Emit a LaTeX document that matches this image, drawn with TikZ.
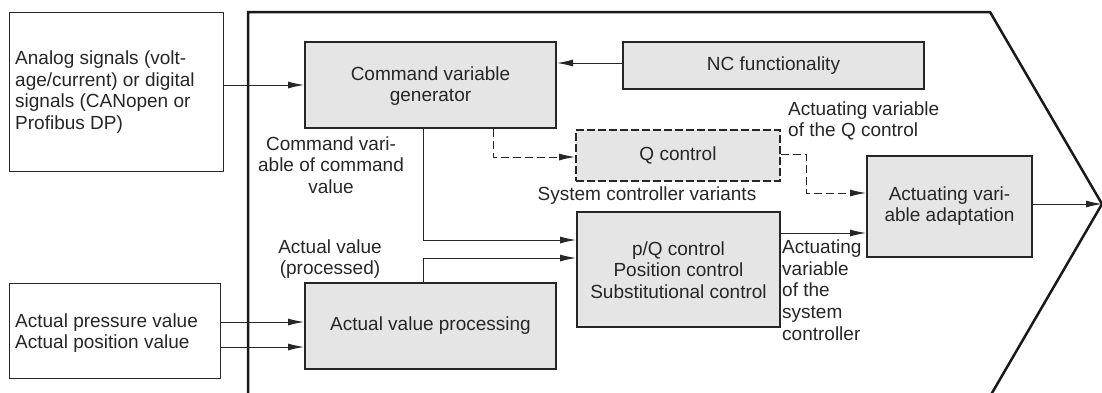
\documentclass[tikz,border=0pt]{standalone}
\usepackage{fontspec}
\setmainfont{Liberation Sans}
\usetikzlibrary{arrows.meta}
\begin{document}
\begin{tikzpicture}[x=1pt,y=-1pt,
  txt/.style={font=\fontsize{19}{21.7}\selectfont, inner sep=0pt, text=black!85},
  inbox/.style={draw=black!85, line width=1pt, fill=white, inner sep=0pt},
  gbox/.style={draw=black!85, line width=2pt, fill=black!10, inner sep=0pt},
  conn/.style={draw=black!85, line width=1pt, -{Latex[length=16pt,width=7pt]}},
  dconn/.style={conn, dash pattern=on 8pt off 4pt},
]
\useasboundingbox (0,0) rectangle (1102,392);
\begin{scope}
\clip (0,0) rectangle (1102,392);
\draw[line width=2.5pt, black!90] (248,420) -- (248,12) -- (990,12) -- (1102,204) -- (985,405);
\end{scope}

% boxes
\node[inbox, minimum width=214pt, minimum height=159pt] (in1) at (116,91.5) {};
\node[txt, align=left, anchor=west] (in1t) at (15,92) {Analog signals (volt-\\age/current) or digital\\signals (CANopen or\\Profibus DP)};
\node[inbox, minimum width=211pt, minimum height=95pt] (in2) at (114.5,330.5) {};
\node[txt, align=left, anchor=west] (in2t) at (15,333) {Actual pressure value\\Actual position value};

\node[gbox, minimum width=251pt, minimum height=86pt] (cvg) at (430.5,85) {};
\node[txt, align=center] (cvgt) at (430.5,86) {Command variable\\generator};
\node[gbox, minimum width=301pt, minimum height=47pt, txt] (nc) at (773.5,65.5) {NC functionality};
\node[gbox, dash pattern=on 8pt off 3pt, minimum width=204pt, minimum height=51pt, txt] (q) at (678,155.5) {Q control};
\node[gbox, minimum width=203pt, minimum height=115pt] (pq) at (678.5,269.5) {};
\node[txt, align=center] (pqt) at (678.5,270) {p/Q control\\Position control\\Substitutional control};
\node[gbox, minimum width=251pt, minimum height=86pt, txt] (avp) at (430.5,326) {Actual value processing};
\node[gbox, minimum width=165pt, minimum height=101pt] (ava) at (949.5,206.5) {};
\node[txt, align=center] (avat) at (949.5,206) {Actuating vari-\\able adaptation};
\coordinate (tip) at (1102,204);

% labels
\node[txt, align=center] (l1) at (331,165) {Command vari-\\able of command\\value};
\node[txt, align=center] (l2) at (330,259) {Actual value\\(processed)};
\node[txt, align=left, anchor=west] (l3) at (788,121) {Actuating variable\\of the Q control};
\node[txt] (l4) at (647,196) {System controller variants};
\node[txt, align=left, anchor=west] (l5) at (782,290) {Actuating\\variable\\of the\\system\\controller};

% connectors
\draw[conn] (in1.east |- 0,85) -- (cvg.west |- 0,85);
\draw[conn] (nc.west |- 0,63) -- (cvg.east |- 0,63);
\draw[dconn] (cvg.south -| 493,0) |- (q.west |- 0,157);
\draw[conn] (cvg.south -| 423,0) |- (pq.west |- 0,240);
\draw[conn] (avp.north -| 423,0) |- (pq.west |- 0,258);
\draw[dconn] (q.east |- 0,154) -| (806,193) -- (ava.west |- 0,193);
\draw[conn] (pq.east |- 0,233) -- (ava.west |- 0,233);
\draw[conn] (ava.east |- 0,204) -- (tip);
\draw[conn] (in2.east |- 0,322) -- (avp.west |- 0,322);
\draw[conn] (in2.east |- 0,347) -- (avp.west |- 0,347);
\end{tikzpicture}
\end{document}
